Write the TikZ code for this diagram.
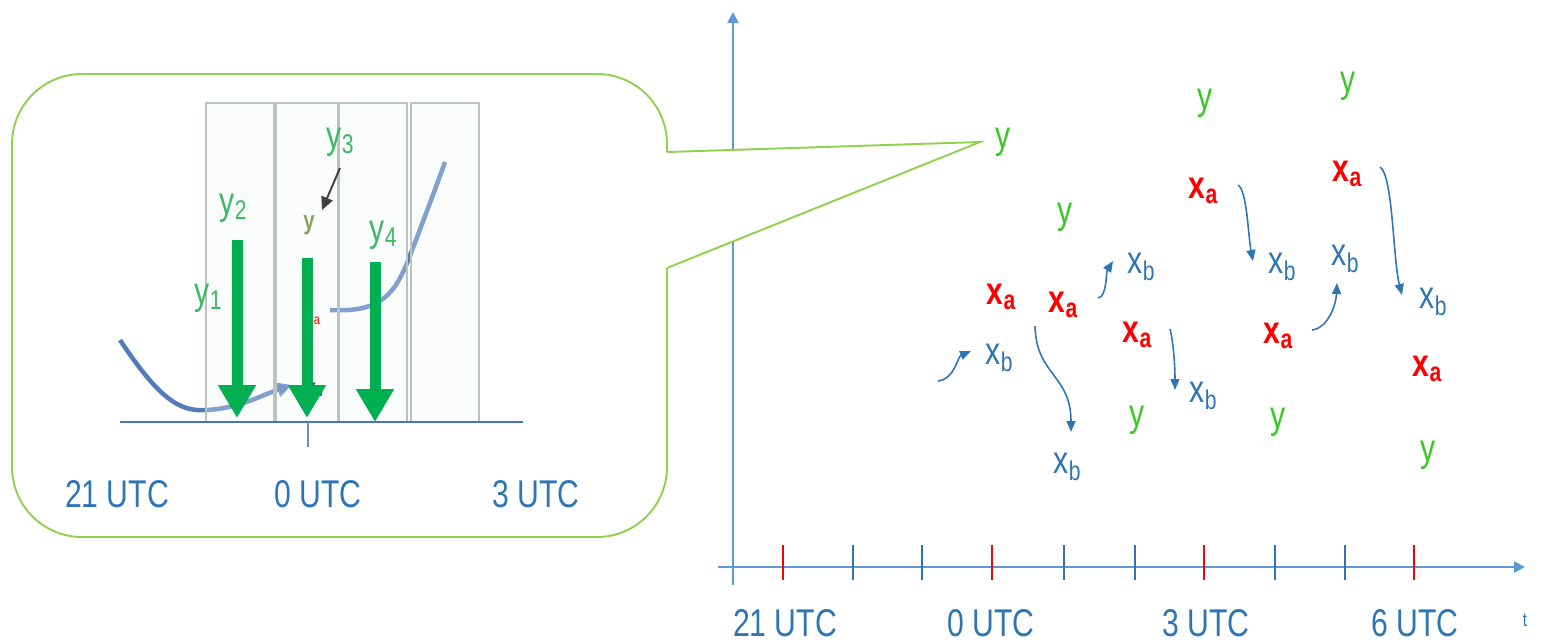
\documentclass[tikz,border=0pt]{standalone}
\usepackage{fontspec}
\setmainfont{Liberation Sans}
\newfontfamily\lblfont[FakeStretch=0.78]{Liberation Sans}
\usetikzlibrary{arrows.meta}
\definecolor{ygreen}{RGB}{55,200,35}
\definecolor{xred}{RGB}{255,0,0}
\definecolor{xblue}{RGB}{46,117,182}
\definecolor{axblue}{RGB}{91,155,213}
\definecolor{calgreen}{RGB}{146,208,80}
\definecolor{barfill}{RGB}{238,246,243}
\definecolor{bargray}{RGB}{185,196,193}
\definecolor{arrgreen}{RGB}{0,176,80}
\definecolor{subgreen}{RGB}{60,185,100}
\definecolor{oldy}{RGB}{140,165,90}
\definecolor{curveblue}{RGB}{65,110,180}
\definecolor{basblue}{RGB}{68,114,196}
\definecolor{darkb}{RGB}{50,60,120}
\tikzset{
  lbl/.style={inner sep=0pt, font=\lblfont\fontsize{11}{13}\selectfont},
  ylbl/.style={lbl, text=ygreen},
  xalbl/.style={lbl, text=xred, font=\lblfont\bfseries\fontsize{11}{13}\selectfont},
  xblbl/.style={lbl, text=xblue},
  ysub/.style={lbl, text=subgreen},
  utc/.style={lbl, text=xblue},
  drift/.style={-{Triangle[length=1.1mm,width=0.9mm]}, xblue, line width=0.45pt},
  obsarr/.style={-{Triangle[length=3.3mm,width=3.6mm]}, arrgreen, line width=1.1mm},
  axis/.style={-{Triangle[length=1.1mm,width=1.1mm]}, axblue, line width=0.6pt},
  callout/.style={calgreen, line width=0.55pt},
  win/.style={draw=bargray, fill=barfill, fill opacity=0.3, line width=0.4pt},
  tck/.style={line width=0.6pt}
}

\begin{document}
\begin{tikzpicture}[x=0.1mm, y=-0.1mm]
  \useasboundingbox (0,0) rectangle (1555,642);

  % time axes
  \draw[axis] (733,585) -- (733,12);
  \draw[axis] (718,567) -- (1525,567);
  \foreach \tx/\tc in {783/xred,853/xblue,922/xblue,992/xred,1064/xblue,1135/xblue,1204/xred,1275/xblue,1345/xblue,1414/xred}
    \draw[tck, draw=\tc] (\tx,545) -- (\tx,580);
  \node[utc] (t21) at (785,623) {21 UTC};
  \node[utc] (t0)  at (991,623) {0 UTC};
  \node[utc] (t3)  at (1206,623) {3 UTC};
  \node[utc] (t6)  at (1415,623) {6 UTC};
  \node[lbl, text=xblue, font=\lblfont\fontsize{5.5}{6}\selectfont] (tt) at (1525,620) {t};

  % callout
  \draw[callout, rounded corners=7mm] (667,268) -- (667,537) -- (12,537) -- (12,74) -- (667,74) -- (667,152);
  \fill[white] (667,152) -- (980,142) -- (667,268) -- cycle;
  \draw[callout] (667,152) -- (980,142) -- (667,268);

  % zoomed window
  \draw[curveblue, line width=0.45mm, opacity=0.9, -{Triangle[length=1.5mm,width=1.4mm]}]
    (120,340) .. controls (160,400) and (180,412) .. (207,410) .. controls (240,408) and (262,395) .. (292,385);
  \draw[curveblue, line width=0.45mm, opacity=0.9]
    (330,310) .. controls (375,312) and (392,300) .. (407,263) .. controls (420,230) and (435,190) .. (445,162);
  \foreach \xl/\xr in {206/274,276/338,339/407,411/479}
    \draw[win] (\xl,103) rectangle (\xr,422);
  \draw[basblue, line width=0.7pt] (120,422) -- (523,422);
  \draw[basblue!80, line width=0.35pt] (308,422) -- (308,447);
  \node[lbl, text=xred, font=\lblfont\fontsize{5.7}{6}\selectfont] (sxa) at (314,318) {x\textsubscript{a}};
  \node[lbl, text=darkb, font=\lblfont\bfseries\fontsize{5.7}{6}\selectfont] (sxb) at (316,390) {x\textsubscript{b}};
  \node[lbl, text=oldy, font=\lblfont\bfseries\fontsize{7.5}{8}\selectfont] (sy) at (309,225) {y};
  \foreach \ax/\at/\ab in {237/240/418,307/258/418,375/262/422}
    \draw[obsarr] (\ax,\at) -- (\ax,\ab);
  \node[ysub] (y1) at (209,298) {y\textsubscript{1}};
  \node[ysub] (y2) at (234,208) {y\textsubscript{2}};
  \node[ysub] (y3) at (341,142) {y\textsubscript{3}};
  \node[ysub] (y4) at (384,235) {y\textsubscript{4}};
  \draw[black!75, line width=0.55pt, -{Triangle[length=1.3mm,width=1.2mm]}]
    ([shift={(-1,26)}]y3.center) -- ([shift={(13,-15)}]sy.center);
  \node[utc] (c21) at (117,494) {21 UTC};
  \node[utc] (c0)  at (318,494) {0 UTC};
  \node[utc] (c3)  at (536,494) {3 UTC};

  % observations and background states
  \node[ylbl] (ytg) at (1003,142) {y};
  \node[ylbl] (ya)  at (1065,217) {y};
  \node[ylbl] (yb)  at (1205,103) {y};
  \node[ylbl] (yc)  at (1348,86)  {y};
  \node[ylbl] (yd)  at (1137,420) {y};
  \node[ylbl] (ye)  at (1278,422) {y};
  \node[ylbl] (yf)  at (1428,455) {y};
  \node[xalbl] (xa1) at (1002,297) {x\textsubscript{a}};
  \node[xalbl] (xa2) at (1064,305) {x\textsubscript{a}};
  \node[xalbl] (xa3) at (1138,335) {x\textsubscript{a}};
  \node[xalbl] (xa4) at (1204,191) {x\textsubscript{a}};
  \node[xalbl] (xa5) at (1279,336) {x\textsubscript{a}};
  \node[xalbl] (xa6) at (1348,174) {x\textsubscript{a}};
  \node[xalbl] (xa7) at (1428,369) {x\textsubscript{a}};
  \node[xblbl] (xb1) at (1142,267) {x\textsubscript{b}};
  \node[xblbl] (xb2) at (1000,358) {x\textsubscript{b}};
  \node[xblbl] (xb3) at (1204,396) {x\textsubscript{b}};
  \node[xblbl] (xb4) at (1068,467) {x\textsubscript{b}};
  \node[xblbl] (xb5) at (1283,267) {x\textsubscript{b}};
  \node[xblbl] (xb6) at (1346,259) {x\textsubscript{b}};
  \node[xblbl] (xb7) at (1434,302) {x\textsubscript{b}};

  % forecasts
  \coordinate (fc0) at (938,381);
  \draw[drift] (fc0) .. controls (955,379) and (957,357) .. ([shift={(-29,-7)}]xb2.center);
  \draw[drift] ([shift={(-29,21)}]xa2.center) .. controls (1036,375) and (1071,375) .. ([shift={(3,-35)}]xb4.center);
  \draw[drift] ([shift={(34,-7)}]xa2.center) .. controls (1107,297) and (1106,272) .. ([shift={(-29,-6)}]xb1.center);
  \draw[drift] ([shift={(32,-6)}]xa3.center) .. controls (1174,345) and (1175,370) .. ([shift={(-29,-6)}]xb3.center);
  \draw[drift] ([shift={(34,-6)}]xa4.center) .. controls (1247,190) and (1248,235) .. ([shift={(-30,-6)}]xb5.center);
  \draw[drift] ([shift={(33,-6)}]xa5.center) .. controls (1328,328) and (1336,305) .. ([shift={(-9,24)}]xb6.center);
  \draw[drift] ([shift={(32,-7)}]xa6.center) .. controls (1393,175) and (1393,260) .. ([shift={(-32,-7)}]xb7.center);
\end{tikzpicture}
\end{document}
